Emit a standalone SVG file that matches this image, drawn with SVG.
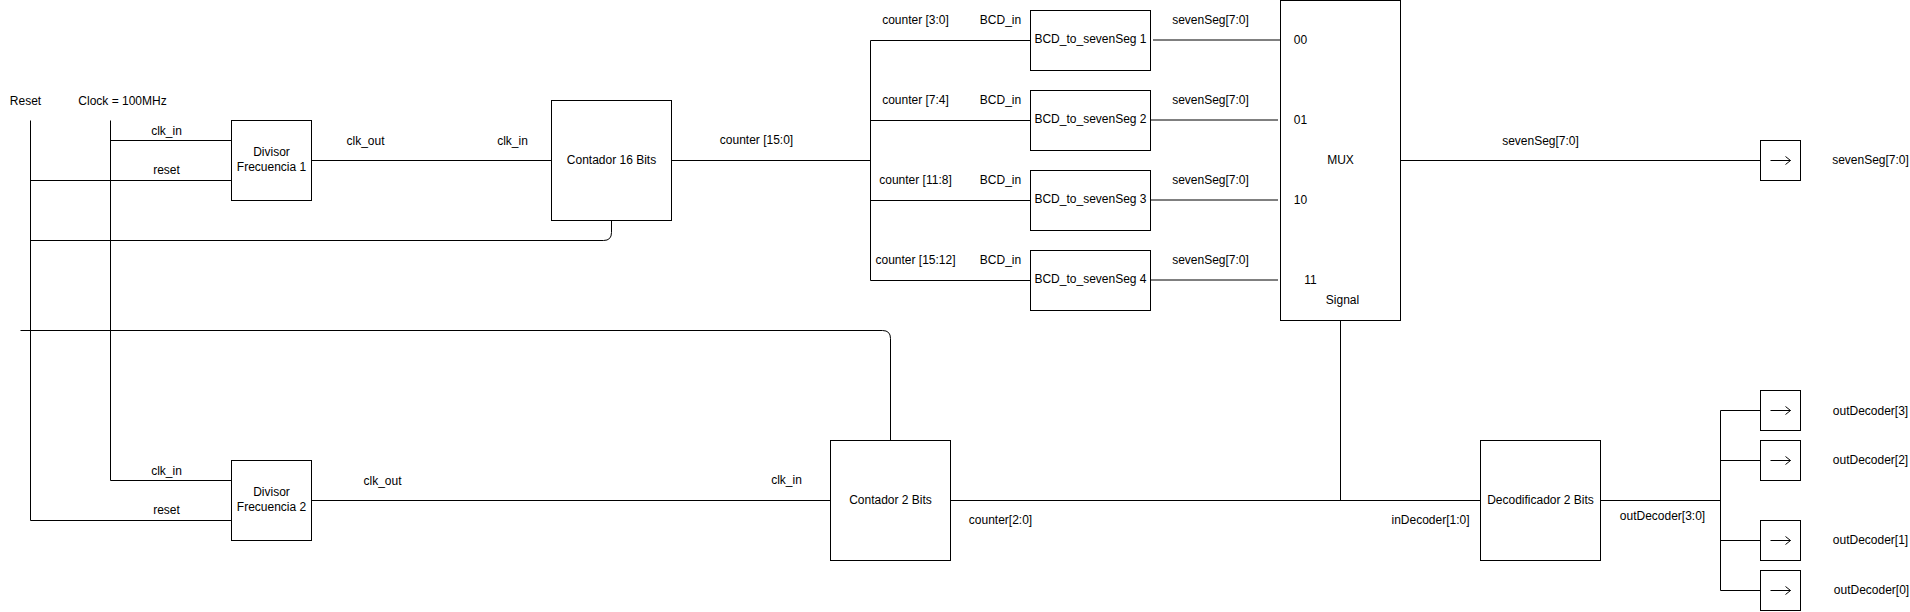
<svg xmlns="http://www.w3.org/2000/svg" width="1910" height="612" viewBox="0 0 1910 612">
<style>
text{font-family:"Liberation Sans",Arial,sans-serif;font-size:12px;fill:#000;text-anchor:middle}
.box{fill:#fff;stroke:#000;stroke-width:1}
.w{fill:none;stroke:#000;stroke-width:1}
.wg{fill:none;stroke:#000;stroke-width:1}
.arr{fill:none;stroke:#000;stroke-width:1}
</style>
<rect width="1910" height="612" fill="#fff"/>
<g id="connectors">
<g transform="translate(0.5,0.5)">
<path class="w" d="M30,120 V520 H231"/>
<path class="w" d="M110,120 V480 H231"/>
<path class="w" d="M110,140 H231"/>
<path class="w" d="M30,180 H231"/>
<path class="w" d="M311,160 H551"/>
<path class="w" d="M611,220 V232 Q611,240 603,240 H30"/>
<path class="w" d="M671,160 H870 M870,40 V280 M870,40 H1030 M870,120 H1030 M870,200 H1030 M870,280 H1030"/>
<path class="w" d="M1400,160 H1760"/>
<path class="w" d="M20,330 H882 Q890,330 890,338 V440"/>
<path class="w" d="M311,500 H830"/>
<path class="w" d="M950,500 H1480"/>
<path class="w" d="M1340,320 V500"/>
<path class="w" d="M1600,500 H1720 M1720,410 V590 M1720,410 H1760 M1720,460 H1760 M1720,540 H1760 M1720,590 H1760"/>
</g>
<path class="wg" d="M1153,40 H1280 M1151,120 H1278 M1151,200 H1278 M1151,280 H1278"/>
</g>
<g transform="translate(0.5,-1.5)">
<g id="label-reset"><text x="25" y="106">Reset</text></g>
<g id="label-clock"><text x="122" y="106">Clock = 100MHz</text></g>
</g>
<g transform="translate(0.5,0.5)">
<g id="divisor1">
<rect class="box" x="231" y="120" width="80" height="80"/>
<text x="271" y="155">Divisor</text>
<text x="271" y="170">Frecuencia 1</text>
</g>
<g id="divisor2">
<rect class="box" x="231" y="460" width="80" height="80"/>
<text x="271" y="495">Divisor</text>
<text x="271" y="510">Frecuencia 2</text>
</g>
<g id="contador16">
<rect class="box" x="551" y="100" width="120" height="120"/>
<text x="611" y="163">Contador 16 Bits</text>
</g>
<g id="bcd1"><rect class="box" x="1030" y="10" width="120" height="60"/><text x="1090" y="42">BCD_to_sevenSeg 1</text></g>
<g id="bcd2"><rect class="box" x="1030" y="90" width="120" height="60"/><text x="1090" y="122">BCD_to_sevenSeg 2</text></g>
<g id="bcd3"><rect class="box" x="1030" y="170" width="120" height="60"/><text x="1090" y="202">BCD_to_sevenSeg 3</text></g>
<g id="bcd4"><rect class="box" x="1030" y="250" width="120" height="60"/><text x="1090" y="282">BCD_to_sevenSeg 4</text></g>
<g id="mux">
<rect class="box" x="1280" y="0" width="120" height="320"/>
<text x="1300" y="43">00</text>
<text x="1300" y="123">01</text>
<text x="1300" y="203">10</text>
<text x="1310" y="283">11</text>
<text x="1340" y="163">MUX</text>
<text x="1342" y="303">Signal</text>
</g>
<g id="contador2">
<rect class="box" x="830" y="440" width="120" height="120"/>
<text x="890" y="503">Contador 2 Bits</text>
</g>
<g id="decodificador">
<rect class="box" x="1480" y="440" width="120" height="120"/>
<text x="1540" y="503">Decodificador 2 Bits</text>
</g>
<g id="out-sevenseg">
<rect class="box" x="1760" y="140" width="40" height="40"/>
<path class="arr" d="M1770,160 H1790 M1785,156 L1790,160 L1785,164"/>
</g>
<g id="out-dec3">
<rect class="box" x="1760" y="390" width="40" height="40"/>
<path class="arr" d="M1770,410 H1790 M1785,406 L1790,410 L1785,414"/>
</g>
<g id="out-dec2">
<rect class="box" x="1760" y="440" width="40" height="40"/>
<path class="arr" d="M1770,460 H1790 M1785,456 L1790,460 L1785,464"/>
</g>
<g id="out-dec1">
<rect class="box" x="1760" y="520" width="40" height="40"/>
<path class="arr" d="M1770,540 H1790 M1785,536 L1790,540 L1785,544"/>
</g>
<g id="out-dec0">
<rect class="box" x="1760" y="570" width="40" height="40"/>
<path class="arr" d="M1770,590 H1790 M1785,586 L1790,590 L1785,594"/>
</g>
<g id="labels">
<text x="166" y="134">clk_in</text>
<text x="166" y="173">reset</text>
<text x="365" y="144">clk_out</text>
<text x="512" y="144">clk_in</text>
<text x="756" y="143">counter [15:0]</text>
<text x="915" y="23">counter [3:0]</text>
<text x="915" y="103">counter [7:4]</text>
<text x="915" y="183">counter [11:8]</text>
<text x="915" y="263">counter [15:12]</text>
<text x="1000" y="23">BCD_in</text>
<text x="1000" y="103">BCD_in</text>
<text x="1000" y="183">BCD_in</text>
<text x="1000" y="263">BCD_in</text>
<text x="1210" y="23">sevenSeg[7:0]</text>
<text x="1210" y="103">sevenSeg[7:0]</text>
<text x="1210" y="183">sevenSeg[7:0]</text>
<text x="1210" y="263">sevenSeg[7:0]</text>
<text x="1540" y="144">sevenSeg[7:0]</text>
<text x="1870" y="163">sevenSeg[7:0]</text>
<text x="166" y="474">clk_in</text>
<text x="166" y="513">reset</text>
<text x="382" y="484">clk_out</text>
<text x="786" y="483">clk_in</text>
<text x="1000" y="523">counter[2:0]</text>
<text x="1430" y="523">inDecoder[1:0]</text>
<text x="1662" y="519">outDecoder[3:0]</text>
<text x="1870" y="414">outDecoder[3]</text>
<text x="1870" y="463">outDecoder[2]</text>
<text x="1870" y="543">outDecoder[1]</text>
<text x="1871" y="593">outDecoder[0]</text>
</g>
</g>
</svg>
